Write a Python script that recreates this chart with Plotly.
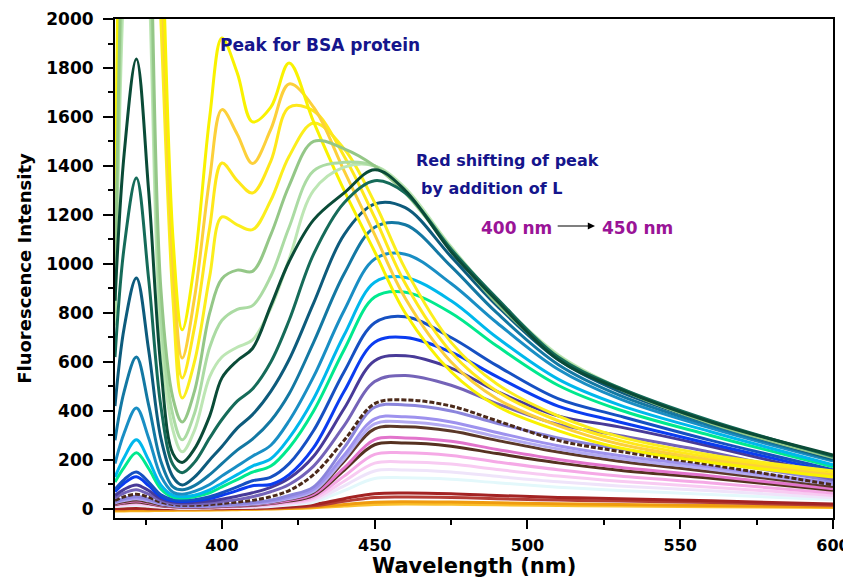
import plotly.graph_objects as go

W = [365, 368, 372, 376, 380, 384, 387, 391, 396, 400, 405, 410, 416, 422, 430, 440, 450, 460, 475, 490, 510, 530, 560, 600]

# Fluorescence intensity of each spectrum (same order as W)
Y1 = [900, 3400, 4200, 3800, 2500, 1100, 731, 1000, 1600, 1922, 1780, 1580, 1640, 1820, 1580, 1300, 1050, 800, 560, 420, 320, 250, 190, 130]
GOLD = [850, 3200, 4000, 3600, 2300, 1000, 616, 860, 1350, 1630, 1530, 1410, 1550, 1735, 1640, 1380, 1120, 860, 600, 450, 340, 265, 200, 138]
Y3 = [800, 3000, 3800, 3400, 2200, 950, 535, 740, 1150, 1412, 1340, 1290, 1420, 1640, 1625, 1440, 1190, 920, 640, 480, 360, 280, 210, 145]
Y4 = [750, 2800, 3600, 3200, 2000, 850, 453, 600, 950, 1192, 1160, 1140, 1260, 1440, 1575, 1470, 1250, 980, 680, 510, 380, 295, 220, 155]
G1 = [850, 2600, 3500, 2600, 900, 450, 355, 480, 800, 940, 975, 970, 1120, 1320, 1500, 1470, 1400, 1290, 1060, 840, 620, 490, 350, 210]
G2 = [800, 2400, 3300, 2400, 800, 380, 282, 390, 660, 770, 815, 830, 950, 1150, 1380, 1415, 1400, 1300, 1065, 850, 625, 492, 352, 212]
G3 = [750, 2200, 3100, 2200, 700, 320, 233, 320, 540, 620, 660, 690, 820, 1020, 1300, 1395, 1400, 1310, 1070, 855, 630, 495, 355, 215]
DG1 = [850, 1450, 1837, 1300, 580, 225, 190, 245, 380, 535, 605, 655, 830, 1010, 1180, 1290, 1385, 1300, 1050, 850, 610, 490, 355, 220]
DG2 = [620, 1070, 1351, 940, 420, 180, 148, 190, 290, 365, 440, 490, 600, 770, 1040, 1250, 1340, 1290, 1060, 860, 620, 495, 360, 215]
BT1 = [420, 740, 943, 650, 290, 130, 98, 130, 200, 255, 330, 385, 480, 610, 840, 1120, 1245, 1230, 1030, 830, 610, 480, 350, 205]
BT2 = [280, 480, 620, 425, 195, 90, 78, 95, 140, 185, 240, 285, 360, 470, 680, 960, 1150, 1160, 990, 800, 590, 465, 340, 200]
BT3 = [185, 310, 412, 290, 135, 68, 60, 72, 100, 135, 175, 215, 260, 360, 540, 810, 1020, 1040, 920, 760, 570, 450, 330, 195]
CYAN = [130, 210, 282, 200, 98, 55, 50, 56, 78, 105, 140, 175, 205, 290, 450, 710, 925, 945, 850, 700, 530, 425, 315, 180]
SPRING = [110, 170, 229, 165, 82, 48, 45, 50, 66, 90, 120, 150, 175, 250, 400, 650, 865, 885, 800, 665, 505, 405, 300, 172]
BLUE = [80, 120, 151, 110, 58, 38, 35, 38, 50, 66, 90, 115, 130, 185, 320, 560, 760, 785, 700, 585, 450, 380, 280, 160]
BBLUE = [70, 105, 131, 95, 50, 33, 30, 33, 42, 56, 75, 95, 100, 140, 250, 480, 680, 700, 640, 540, 420, 355, 265, 150]
INDIGO = [55, 80, 98, 75, 42, 28, 25, 27, 32, 40, 52, 66, 88, 125, 215, 410, 605, 625, 575, 480, 380, 335, 255, 135]
SLATE = [45, 65, 78, 60, 35, 22, 20, 21, 24, 30, 38, 50, 70, 100, 175, 340, 520, 545, 505, 430, 345, 300, 232, 120]
BROWND = [35, 50, 60, 48, 28, 18, 15, 15, 18, 22, 28, 35, 50, 75, 140, 280, 430, 445, 420, 360, 280, 235, 180, 98]
LAVBLUE = [30, 42, 52, 40, 24, 15, 12, 12, 14, 17, 20, 26, 36, 55, 90, 250, 415, 424, 400, 350, 290, 245, 195, 115]
LAV = [28, 38, 46, 36, 22, 14, 11, 11, 12, 15, 18, 23, 32, 48, 80, 220, 368, 376, 355, 312, 258, 218, 172, 105]
LLAV = [25, 34, 42, 33, 20, 13, 10, 10, 11, 13, 16, 20, 28, 42, 72, 205, 347, 355, 336, 295, 245, 206, 162, 100]
BROWN = [22, 30, 36, 28, 17, 11, 9, 9, 10, 12, 15, 19, 27, 40, 68, 195, 327, 335, 318, 280, 232, 195, 152, 92]
PINK = [20, 27, 32, 25, 15, 10, 8, 8, 9, 11, 13, 17, 24, 35, 60, 168, 283, 290, 276, 243, 202, 170, 135, 82]
BROWN2 = [18, 24, 28, 22, 13, 9, 7, 7, 8, 10, 12, 15, 22, 32, 55, 158, 262, 269, 256, 226, 188, 158, 125, 76]
LPINK = [16, 21, 25, 20, 12, 8, 6, 6, 7, 8, 10, 13, 19, 28, 48, 134, 223, 229, 218, 192, 160, 134, 106, 65]
PPINK = [14, 18, 21, 17, 10, 7, 5, 5, 6, 7, 9, 11, 16, 24, 40, 113, 187, 192, 183, 161, 134, 113, 89, 55]
VPALE = [12, 15, 18, 14, 9, 6, 4, 4, 5, 6, 7, 9, 13, 20, 34, 94, 155, 159, 151, 133, 111, 94, 74, 46]
PCYAN = [10, 12, 14, 11, 7, 5, 3, 3, 4, 5, 6, 7, 10, 16, 27, 75, 124, 127, 121, 107, 89, 75, 59, 37]
RED = [2, 2, 3, 2, 2, 2, 2, 2, 2, 2, 3, 4, 6, 10, 18, 42, 62, 65, 62, 55, 47, 42, 33, 20]
RED2 = [1, 1, 2, 1, 1, 1, 1, 1, 1, 1, 2, 3, 4, 7, 13, 31, 47, 49, 47, 42, 36, 32, 26, 15]
ORANGE = [-5, -5, -4, -4, -4, -3, -3, -3, -2, -2, -1, 0, 1, 3, 8, 18, 27, 29, 28, 25, 21, 18, 14, 9]
ORANGE2 = [-8, -8, -7, -7, -6, -6, -5, -5, -5, -4, -3, -2, 0, 2, 5, 12, 18, 20, 19, 17, 14, 12, 9, 6]

# (values, colour, dash) drawn from the lowest spectrum to the highest
series = [
    (ORANGE2, "#fbc02a", "solid"), (ORANGE, "#ef9b0f", "solid"),
    (RED2, "#b43d36", "solid"), (RED, "#a32323", "solid"),
    (PCYAN, "#e3f8fb", "solid"), (VPALE, "#efe4fa", "solid"),
    (PPINK, "#f8cbf2", "solid"), (LPINK, "#f5a9e6", "solid"),
    (BROWN2, "#553120", "solid"), (PINK, "#e274cc", "solid"),
    (BROWN, "#5b3828", "solid"), (LLAV, "#b4abf2", "solid"),
    (LAV, "#9e92ee", "solid"), (LAVBLUE, "#8b85dc", "solid"),
    (BROWND, "#4c2a1a", "5px,2px"), (SLATE, "#7463b8", "solid"),
    (INDIGO, "#483a98", "solid"), (BBLUE, "#0b3cf0", "solid"),
    (BLUE, "#1650c2", "solid"), (SPRING, "#00e98e", "solid"),
    (CYAN, "#00b8ec", "solid"), (BT3, "#198ec4", "solid"),
    (BT2, "#1378a3", "solid"), (BT1, "#0d5b7c", "solid"),
    (Y4, "#fbee1c", "solid"), (Y3, "#ffe81a", "solid"),
    (GOLD, "#fcd03a", "solid"), (Y1, "#f9f200", "solid"),
    (G3, "#bde6b4", "solid"), (G2, "#abdba3", "solid"),
    (G1, "#94c787", "solid"), (DG2, "#156b59", "solid"),
    (DG1, "#0a4b37", "solid"),
]

fig = go.Figure()
for vals, col, dash in series:
    fig.add_trace(go.Scatter(
        x=W, y=vals, mode="lines",
        line=dict(color=col, width=3, shape="spline", smoothing=1.0, dash=dash),
        showlegend=False, hoverinfo="skip"))

FONT = "DejaVu Sans, Liberation Sans, Arial, sans-serif"
NAVY = "#15158c"
PURPLE = "#9a1497"

fig.add_annotation(x=432, y=1894, text="Peak for BSA protein", showarrow=False,
                   font=dict(family=FONT, size=17, color=NAVY, weight="bold"))
fig.add_annotation(x=493.6, y=1424, text="Red shifting of peak", showarrow=False,
                   font=dict(family=FONT, size=16, color=NAVY, weight="bold"))
fig.add_annotation(x=488.2, y=1310, text="by addition of L", showarrow=False,
                   font=dict(family=FONT, size=16, color=NAVY, weight="bold"))
fig.add_annotation(x=496.3, y=1147, text="400 nm", showarrow=False,
                   font=dict(family=FONT, size=17, color=PURPLE, weight="bold"))
fig.add_annotation(x=535.9, y=1147, text="450 nm", showarrow=False,
                   font=dict(family=FONT, size=17, color=PURPLE, weight="bold"))
fig.add_annotation(x=522.1, y=1155, ax=509.4, ay=1155, axref="x", ayref="y",
                   xref="x", yref="y", text="", showarrow=True,
                   arrowhead=2, arrowsize=1.2, arrowwidth=1.2, arrowcolor="#000000")
# x-axis title, placed just under the tick labels
fig.add_annotation(x=0.5, y=-0.068, xref="paper", yref="paper", yanchor="top",
                   text="Wavelength (nm)", showarrow=False,
                   font=dict(family=FONT, size=21, color="black", weight="bold"))

# the page places the figure 8 px in from the top-left corner of the window
fig.update_layout(
    width=843, height=569,
    margin=dict(l=107, r=18, t=11, b=59),
    paper_bgcolor="white", plot_bgcolor="white",
    font=dict(family=FONT, color="black"),
)
fig.update_xaxes(
    range=[365, 600], tickvals=[400, 450, 500, 550, 600],
    ticks="outside", ticklen=9, tickwidth=2, tickcolor="black",
    minor=dict(tickvals=[375, 425, 475, 525, 575], ticks="outside", ticklen=5, tickwidth=2, tickcolor="black"),
    showline=True, linewidth=2, linecolor="black", mirror=True,
    showgrid=False, zeroline=False, automargin=False,
    tickfont=dict(family=FONT, size=16, weight="bold"),
    ticklabelstandoff=3,
)
fig.update_yaxes(
    range=[-37, 2000], tickvals=list(range(0, 2001, 200)),
    ticks="outside", ticklen=10, tickwidth=2, tickcolor="black",
    minor=dict(tickvals=list(range(100, 2000, 200)), ticks="outside", ticklen=5, tickwidth=2, tickcolor="black"),
    showline=True, linewidth=2, linecolor="black", mirror=True,
    showgrid=False, zeroline=False, automargin=False,
    tickfont=dict(family=FONT, size=17, weight="bold"),
    ticklabelstandoff=6,
    title=dict(text="Fluorescence Intensity", font=dict(family=FONT, size=18, weight="bold"), standoff=10),
)

fig.write_html("out.html")
